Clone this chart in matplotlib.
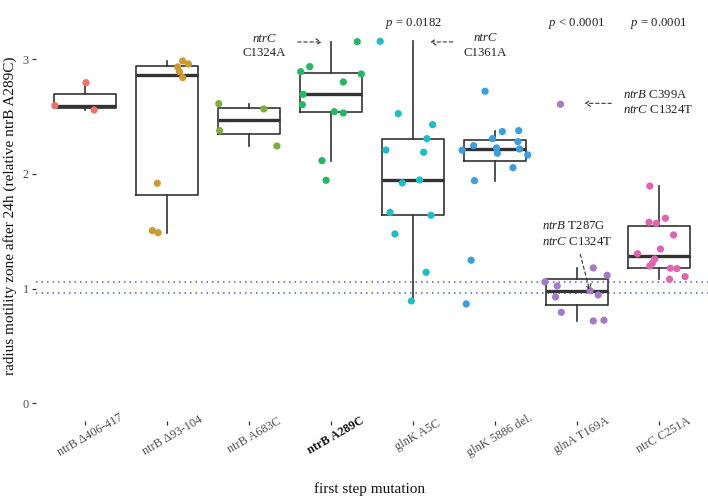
import matplotlib
matplotlib.use('Agg')
import matplotlib.pyplot as plt
import matplotlib.transforms as mtransforms

plt.rcParams['font.family'] = ['Liberation Serif', 'DejaVu Serif']
plt.rcParams['mathtext.fontset'] = 'custom'
plt.rcParams['mathtext.it'] = 'Liberation Serif:italic'
plt.rcParams['mathtext.rm'] = 'Liberation Serif'

mutations = ['ntrB \u0394406-417', 'ntrB \u039493-104', 'ntrB A683C', 'ntrB A289C',
             'glnK A5C', 'glnK 5886 del.', 'glnA T169A', 'ntrC C251A']
colors = ['#F0706A', '#CC9A2E', '#80AE3A', '#22B865', '#1BBFC8', '#3A9EE0', '#A47BC4', '#E063B0']

# relative motility values per mutation, with horizontal jitter
vals_1 = [2.595, 2.795, 2.557]
jit_1 = [-0.37, 0.01, 0.11]
vals_2 = [2.984, 2.958, 2.932, 2.891, 2.839, 1.918, 1.505, 1.487]
jit_2 = [0.19, 0.26, 0.13, 0.15, 0.19, -0.12, -0.18, -0.11]
vals_3 = [2.612, 2.566, 2.377, 2.243]
jit_3 = [-0.37, 0.18, -0.36, 0.34]
vals_4 = [2.891, 2.935, 2.694, 2.603, 2.801, 2.542, 2.531, 2.115, 1.944, 3.153, 2.871]
jit_4 = [-0.37, -0.26, -0.34, -0.35, 0.15, 0.04, 0.15, -0.11, -0.06, 0.32, 0.37]
vals_5 = [3.156, 2.525, 2.429, 2.307, 2.208, 2.188, 1.947, 1.921, 1.665, 1.639, 1.476, 1.142, 0.892]
jit_5 = [-0.40, -0.18, 0.24, 0.17, -0.33, 0.13, 0.08, -0.13, -0.28, 0.22, -0.22, 0.16, -0.02]
vals_6 = [2.72, 2.369, 2.377, 2.307, 2.281, 2.246, 2.226, 2.206, 2.217, 2.18, 2.165, 2.054,
          1.941, 1.247, 0.866]
jit_6 = [-0.12, 0.09, 0.29, -0.03, 0.28, -0.26, 0.02, -0.40, 0.30, 0.03, 0.40, 0.22,
         -0.25, -0.29, -0.35]
vals_7 = [2.607, 1.18, 1.116, 1.058, 1.023, 0.982, 0.944, 0.927, 0.793, 0.718, 0.724]
jit_7 = [-0.20, 0.20, 0.37, -0.39, -0.24, 0.16, 0.26, -0.26, -0.19, 0.20, 0.33]
vals_8 = [1.894, 1.578, 1.569, 1.613, 1.467, 1.345, 1.304, 1.258, 1.22, 1.197, 1.177, 1.174,
          1.104, 1.081]
jit_8 = [-0.11, -0.12, -0.03, 0.08, 0.18, 0.02, -0.26, -0.05, -0.08, -0.11, 0.14, 0.22,
         0.32, 0.13]

values = [vals_1, vals_2, vals_3, vals_4, vals_5, vals_6, vals_7, vals_8]
jitters = [jit_1, jit_2, jit_3, jit_4, jit_5, jit_6, jit_7, jit_8]

ref_band = [0.965, 1.055]
p_labels = [(5, r'$p$ = 0.0182'), (7, r'$p$ < 0.0001'), (8, r'$p$ = 0.0001')]

fig = plt.figure(figsize=(7.08, 4.99), dpi=100)
ax = fig.add_axes([36 / 708, 1 - 421.4 / 499, 672 / 708, 397.8 / 499])

positions = list(range(1, len(mutations) + 1))
ax.boxplot(values, positions=positions, widths=0.75, whis=1.5, showfliers=False,
           patch_artist=False,
           boxprops=dict(color='#333333', linewidth=1.2),
           whiskerprops=dict(color='#333333', linewidth=1.2),
           capprops=dict(linewidth=0),
           medianprops=dict(color='#333333', linewidth=2.4))

for y in ref_band:
    ax.axhline(y, color='#4F5FCB', linestyle=(0, (1, 2.6)), linewidth=1.1, zorder=1)

for pos, v, j, c in zip(positions, values, jitters, colors):
    ax.scatter([pos + d for d in j], v, s=27, color=c, edgecolors='none', zorder=3)

ax.set_xlim(0.4, 8.6)
ax.set_ylim(-0.158, 3.31)
for s in ax.spines.values():
    s.set_visible(False)

ax.set_yticks([0, 1, 2, 3])
ax.set_yticklabels(['0', '1', '2', '3'])
ax.tick_params(axis='both', length=2.6, width=0.9, color='#333333', labelcolor='#4D4D4D',
               labelsize=8.8)
ax.tick_params(axis='y', pad=2.5)
ax.set_xticks(positions)
ax.set_xticklabels(mutations, rotation=30, ha='center', va='center', rotation_mode='anchor')
ax.tick_params(axis='x', pad=7.3)
shift = mtransforms.ScaledTranslation(5 / 100, 0, fig.dpi_scale_trans)
for lab in ax.get_xticklabels():
    lab.set_transform(lab.get_transform() + shift)
    if lab.get_text() == 'ntrB A289C':
        lab.set_fontweight('bold')
        lab.set_color('#111111')

fig.text(10 / 708, 1 - 216 / 499, 'radius motility zone after 24h (relative ntrB A289C)',
         rotation=90, ha='center', va='center', fontsize=11, color='#111111')
fig.text(370 / 708, 1 - 489 / 499, 'first step mutation', ha='center', va='center',
         fontsize=11, color='#111111')

txt = dict(fontsize=9.2, color='#222222')
for pos, lab in p_labels:
    ax.text(pos, 3.307, lab, ha='center', va='center', **txt)

arrow = dict(arrowstyle='->,head_length=0.35,head_width=0.22', color='#333333',
             linewidth=0.8, linestyle=(0, (3, 2.5)), shrinkA=0, shrinkB=0)

ax.annotate('', xy=(3.887, 3.15), xytext=(3.594, 3.15), arrowprops=arrow)
ax.text(3.18, 3.178, 'ntrC', ha='center', va='center', style='italic', **txt)
ax.text(3.18, 3.054, 'C1324A', ha='center', va='center', **txt)

ax.annotate('', xy=(5.212, 3.15), xytext=(5.484, 3.15), arrowprops=arrow)
ax.text(5.887, 3.183, 'ntrC', ha='center', va='center', style='italic', **txt)
ax.text(5.887, 3.051, 'C1361A', ha='center', va='center', **txt)

ax.annotate('', xy=(7.094, 2.615), xytext=(7.42, 2.615), arrowprops=arrow)
ax.text(7.557, 2.688, r'$ntrB$ C399A', ha='left', va='center', **txt)
ax.text(7.557, 2.557, r'$ntrC$ C1324T', ha='left', va='center', **txt)

ax.annotate('', xy=(7.155, 0.988), xytext=(7.041, 1.299), arrowprops=arrow)
ax.text(6.578, 1.546, r'$ntrB$ T287G', ha='left', va='center', **txt)
ax.text(6.578, 1.409, r'$ntrC$ C1324T', ha='left', va='center', **txt)

fig.savefig('out.png', dpi=100)
